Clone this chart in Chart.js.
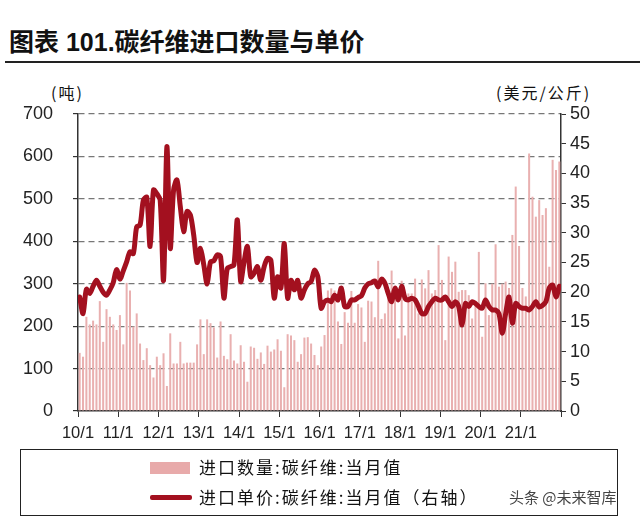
<!DOCTYPE html>
<html>
<head>
<meta charset="utf-8">
<script src="https://cdn.jsdelivr.net/npm/chart.js@4"></script>
<style>
  body { margin: 0; background: #fff; }
  #wrap { position: relative; width: 640px; height: 526px; overflow: hidden; font-family: 'Noto Sans CJK SC', sans-serif; color: #111; }
  #title { position: absolute; left: 9px; top: 22px; font-size: 25px; font-weight: bold; font-family: Arial, 'Noto Sans CJK SC', sans-serif; white-space: nowrap; }
  #rule { position: absolute; left: 5px; right: 0; top: 61px; height: 2px; background: #222; }
  .unit { position: absolute; top: 80px; font-size: 16px; letter-spacing: 2px; white-space: nowrap; }
  #cv { position: absolute; left: 0; top: 0; }
  #legend { position: absolute; left: 20px; top: 449px; width: 598px; height: 67px; border: 1px solid #222; box-sizing: border-box; }
  .row { position: absolute; left: 0; font-size: 17px; letter-spacing: 2px; white-space: nowrap; }
  .swatch { position: absolute; left: 129px; }
  .txt { position: absolute; left: 178px; }
  #mark { position: absolute; left: 509px; top: 486px; font-size: 15px; color: #444; white-space: nowrap; }
</style>
</head>
<body>
<div id="wrap">
  <div id="title">图表 101.碳纤维进口数量与单价</div>
  <div id="rule"></div>
  <div class="unit" style="left:51px">(吨)</div>
  <div class="unit" style="left:496px">(美元/公斤)</div>
  <canvas id="cv" width="640" height="450"></canvas>
  <div id="legend">
    <div class="row" style="top:4px">
      <span class="swatch" style="top:8px;width:40px;height:12px;background:#e8aaaa"></span>
      <span class="txt">进口数量:碳纤维:当月值</span>
    </div>
    <div class="row" style="top:34px">
      <span class="swatch" style="top:11px;width:42px;height:5px;background:#a3101f;border-radius:2px"></span>
      <span class="txt">进口单价:碳纤维:当月值（右轴）</span>
    </div>
  </div>
  <div id="mark">头条 @未来智库</div>
</div>
<script>
// 月度数据 2010/1 – 2021/12
const startYear = 10;
const yearTicks = [0, 12, 24, 36, 48, 60, 72, 84, 96, 108, 120, 132, 144];

// 进口数量（吨）
const qty = [
  137, 128, 222, 204, 213, 204, 259, 163, 240, 222, 204, 191,   // 2010
  226, 157, 302, 284, 199, 230, 159, 120, 148, 108,  79, 128,   // 2011
  108, 136,  59, 183, 112, 112, 163, 112, 114, 114, 114, 157,   // 2012
  216, 134, 216, 207, 197, 126, 211, 130, 122, 181, 119, 112,   // 2013
  155, 116,  69, 152, 149, 123, 138, 111, 154, 140, 145, 169,   // 2014
  142,  56, 181, 178, 167, 116, 134, 173, 174, 159, 132, 108,   // 2015
  152, 179, 284, 289, 284, 211, 158, 233, 208, 283, 208, 252,   // 2016
  244, 163, 260, 258, 221, 354, 217, 230, 277, 331, 293, 171,   // 2017
  307, 178, 277, 277, 312, 230, 310, 289, 332, 277, 285, 391,   // 2018
  309, 167, 364, 328, 352, 281, 285, 285, 273, 218, 254, 375,   // 2019
  175, 301, 226, 300, 393, 293, 300, 305, 290, 415, 529, 389,   // 2020
  290, 270, 607, 505, 458, 497, 462, 478, 340, 592, 568, 588    // 2021
];

// 进口单价（美元/公斤，右轴）
const price = [
  19.2, 16.4, 20.5, 19.8, 21.0, 22.0, 21.0, 20.0, 19.5, 20.4, 21.6, 23.8,
  22.2, 23.6, 25.1, 26.8, 26.5, 31.0, 31.3, 35.5, 36.0, 27.7, 37.2, 36.6,
  35.5, 22.0, 44.5, 27.4, 37.2, 38.9, 34.4, 30.2, 33.6, 33.0, 29.6, 25.0,
  27.4, 24.6, 21.4, 25.1, 25.3, 26.3, 26.0, 19.0, 24.0, 24.3, 24.6, 32.2,
  21.8, 25.1, 27.7, 22.6, 23.2, 24.3, 22.0, 24.3, 25.7, 25.4, 19.0, 22.6,
  20.7, 28.2, 19.0, 22.0, 20.4, 22.0, 19.0, 20.4, 21.4, 21.8, 23.7, 22.6,
  17.3, 18.4, 18.7, 18.4, 19.5, 18.7, 20.7, 17.6, 17.6, 18.7, 18.7, 19.1,
  19.4, 20.7, 21.4, 21.6, 21.9, 20.9, 22.2, 21.5, 19.8, 18.4, 20.7, 18.7,
  21.0, 19.0, 18.7, 19.0, 18.7, 17.6, 16.4, 16.4, 17.6, 18.4, 19.0, 18.7,
  18.7, 19.2, 18.4, 17.6, 18.4, 17.6, 14.5, 18.1, 17.6, 18.4, 18.1, 17.6,
  17.3, 18.7, 17.6, 17.0, 17.0, 16.4, 13.1, 16.4, 19.2, 14.8, 18.1, 17.6,
  17.3, 17.3, 17.0, 17.6, 18.4, 17.5, 17.8, 18.4, 20.7, 21.2, 19.2, 21.0
];

const AXIS = '#333';
const tickFont = { family: 'Arial, "Liberation Sans", sans-serif', size: 18 };

new Chart(document.getElementById('cv'), {
  type: 'bar',
  data: {
    datasets: [
      {
        type: 'line',
        data: price.map((v, i) => ({ x: i + 0.5, y: v })),
        yAxisID: 'y1',
        borderColor: '#a3101f',
        borderWidth: 5,
        borderJoinStyle: 'round',
        borderCapStyle: 'round',
        pointRadius: 0,
        tension: 0.3,
        order: 1,
      },
      {
        data: qty.map((v, i) => ({ x: i + 0.5, y: v })),
        yAxisID: 'y',
        backgroundColor: '#e9b0b0',
        barPercentage: 0.6,
        categoryPercentage: 1,
        order: 2,
      },
    ],
  },
  options: {
    responsive: false,
    animation: false,
    layout: { padding: { top: 114, left: 0, right: 0, bottom: 0 } },
    plugins: { legend: { display: false }, tooltip: { enabled: false } },
    scales: {
      x: {
        type: 'linear',
        min: 0,
        max: 144,
        offset: false,
        afterBuildTicks: (s) => { s.ticks = yearTicks.map(v => ({ value: v })); },
        afterFit: (s) => { s.height = 39; },
        ticks: {
          autoSkip: false,
          maxRotation: 0,
          padding: 7,
          color: '#222',
          font: { family: 'Arial, "Liberation Sans", sans-serif', size: 16.5 },
          callback: (v) => (v < 144 ? (startYear + v / 12) + '/1' : ''),
        },
        grid: { offset: false, drawOnChartArea: false, tickLength: 6, tickColor: AXIS },
        border: { color: AXIS, width: 1.5 },
      },
      y: {
        position: 'left',
        min: 0,
        max: 700,
        afterFit: (s) => { s.width = 78; },
        ticks: { stepSize: 100, padding: 20, color: '#222', font: tickFont },
        grid: {
          color: (c) => (c.tick && c.tick.value === 0 ? 'rgba(0,0,0,0)' : '#777'),
          tickColor: AXIS,
          tickLength: 5,
          lineWidth: 1.2,
        },
        border: { color: AXIS, width: 1.5, dash: [6, 4] },
      },
      y1: {
        position: 'right',
        min: 0,
        max: 50,
        afterFit: (s) => { s.width = 79; },
        ticks: { stepSize: 5, padding: 4, color: '#222', font: tickFont },
        grid: { drawOnChartArea: false, tickColor: AXIS, tickLength: 5 },
        border: { color: AXIS, width: 1.5 },
      },
    },
  },
});
</script>
</body>
</html>
